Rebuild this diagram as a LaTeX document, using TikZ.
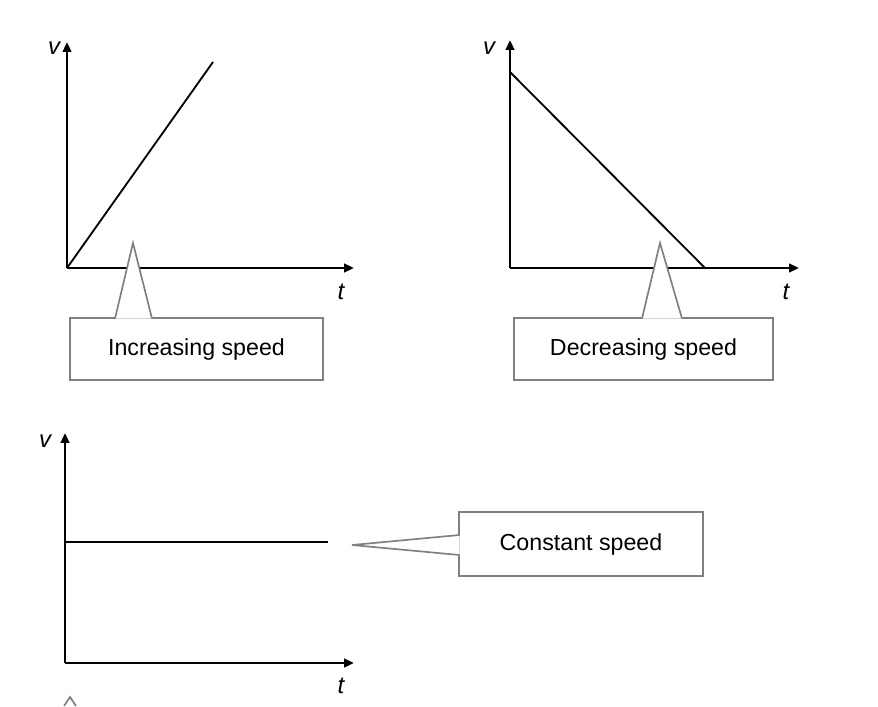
\documentclass[tikz,border=0pt]{standalone}
\usepackage{fontspec}
\setmainfont{Liberation Sans}
\usetikzlibrary{arrows.meta}

\tikzset{
  axis/.style={line width=2pt, -{Triangle[length=7pt,width=6pt]}},
  graphline/.style={line width=1.3pt},
  callbox/.style={draw=gray, line width=1.2pt, fill=white, font=\fontsize{16.5}{20}\selectfont, inner sep=0pt},
  callout/.style={draw=gray, line width=1.2pt, fill=white},
  axlabel/.style={font=\fontsize{17}{20}\selectfont\itshape}
}

\begin{document}
\begin{tikzpicture}[x=0.025cm, y=-0.025cm]
            \useasboundingbox (0,0) rectangle (878,706);

            %first graph
            \coordinate (o1) at (67,268);
            \coordinate (v1) at (67,42);
            \coordinate (t1) at (354,268);
            \coordinate (e1) at (213,62);
            \draw[axis] (o1) -- (v1);
            \draw[axis] (o1) -- (t1);
            \draw[graphline] (o1) -- (e1);
            \node[axlabel] (lv1) at (54,48) {v};
            \node[axlabel] (lt1) at (341,292) {t};

            %second graph
            \coordinate (o2) at (510,268);
            \coordinate (v2) at (510,40);
            \coordinate (t2) at (799,268);
            \coordinate (s2) at (510,72);
            \coordinate (e2) at (705,268);
            \draw[axis] (o2) -- (v2);
            \draw[axis] (o2) -- (t2);
            \draw[graphline] (s2) -- (e2);
            \node[axlabel] (lv2) at (489,48) {v};
            \node[axlabel] (lt2) at (786,292) {t};

            %third graph
            \coordinate (o3) at (65,663);
            \coordinate (v3) at (65,433);
            \coordinate (t3) at (354,663);
            \coordinate (s3) at (65,542);
            \coordinate (e3) at (328,542);
            \draw[axis] (o3) -- (v3);
            \draw[axis] (o3) -- (t3);
            \draw[graphline] (s3) -- (e3);
            \node[axlabel] (lv3) at (45,441) {v};
            \node[axlabel] (lt3) at (341,686) {t};

            %callouts
            \node[callbox, minimum width=6.33cm, minimum height=1.55cm] (inc) at (196.5,349) {Increasing speed};
            \node[callbox, minimum width=6.48cm, minimum height=1.55cm] (dec) at (643.5,349) {Decreasing speed};
            \node[callbox, minimum width=6.1cm, minimum height=1.6cm] (con) at (581,544) {Constant speed};
            \coordinate (pinc) at (133,243);
            \coordinate (pdec) at (660,243);
            \coordinate (pcon) at (352,545);
            \draw[callout] (115,318.5) -- (pinc) -- (152,318.5);
            \draw[callout] (642,318.5) -- (pdec) -- (682,318.5);
            \draw[callout] (459.5,535) -- (pcon) -- (459.5,555);
            \draw[draw=gray, line width=1.2pt] (64,706) -- (70,697) -- (76,706);
        \end{tikzpicture}
\end{document}
